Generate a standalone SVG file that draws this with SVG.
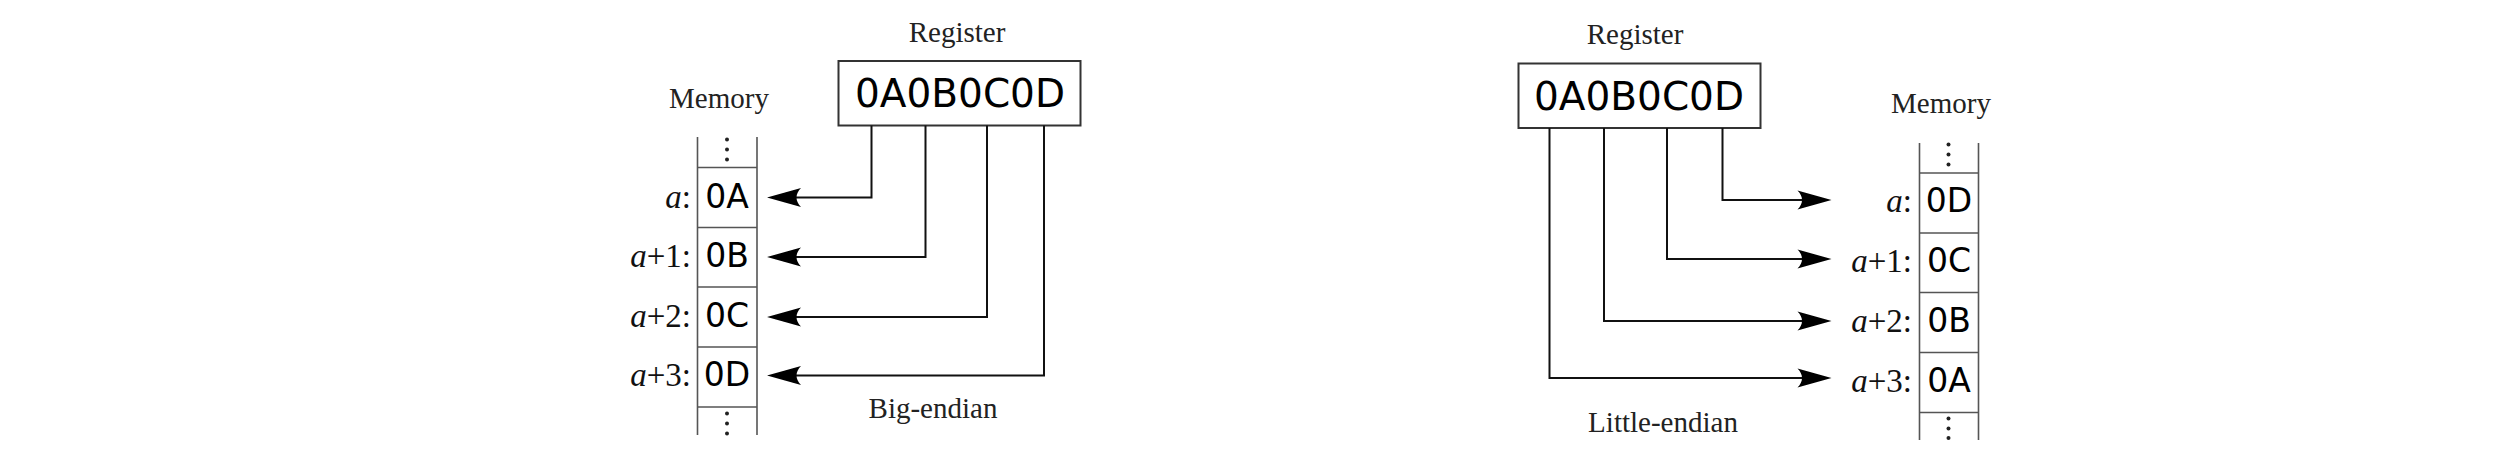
<svg xmlns="http://www.w3.org/2000/svg" width="2515" height="468" viewBox="0 0 2515 468">
<style>
.bg{fill:#fff}
.title{font-family:"Liberation Serif","Times New Roman",serif;font-size:29px;fill:#222;text-anchor:middle}
.lbl{font-family:"Liberation Serif","Times New Roman",serif;font-size:33px;fill:#111;text-anchor:end}
.lbl .i{font-style:italic}
.reg{font-family:"DejaVu Sans","Bitstream Vera Sans",sans-serif;font-size:39px;fill:#000;text-anchor:middle}
.cell{font-family:"DejaVu Sans","Bitstream Vera Sans",sans-serif;font-size:33px;fill:#000;text-anchor:middle}
.box{fill:#fff;stroke:#333;stroke-width:2}
.col{fill:none;stroke:#555;stroke-width:1.6}
.dot{fill:#222}
.conn{fill:none;stroke:#111;stroke-width:2;marker-end:url(#arr)}
</style>
<defs>
<marker id="arr" markerUnits="userSpaceOnUse" orient="auto" refX="0" refY="0" markerWidth="60" markerHeight="30" viewBox="-30 -15 60 30" overflow="visible">
<path d="M10,0 L-24,-9.5 C-18,-3.5 -18,3.5 -24,9.5 Z" fill="#000"/>
</marker>
</defs>
<rect class="bg" x="0" y="0" width="2515" height="468"/>

<g id="big-endian-register">
<text class="title" x="957" y="42">Register</text>
<rect class="box" x="838.5" y="61" width="242" height="64.5"/>
<text class="reg" x="960" y="107">0A0B0C0D</text>
</g>

<g id="big-endian-memory">
<text class="title" x="719" y="108">Memory</text>
<path class="col" d="M697.5,137V435M757,137V435M697.5,167.5H757M697.5,227.5H757M697.5,287H757M697.5,347H757M697.5,407H757"/>
<circle class="dot" cx="727" cy="139.5" r="2"/><circle class="dot" cx="727" cy="149.5" r="2"/><circle class="dot" cx="727" cy="159.5" r="2"/>
<circle class="dot" cx="727" cy="413.5" r="2"/><circle class="dot" cx="727" cy="423.5" r="2"/><circle class="dot" cx="727" cy="433.5" r="2"/>
<text class="cell" x="727" y="208">0A</text>
<text class="cell" x="727" y="267">0B</text>
<text class="cell" x="727" y="327">0C</text>
<text class="cell" x="727" y="386">0D</text>
<text class="lbl" x="691" y="208"><tspan class="i">a</tspan>:</text>
<text class="lbl" x="691" y="267"><tspan class="i">a</tspan>+1:</text>
<text class="lbl" x="691" y="327"><tspan class="i">a</tspan>+2:</text>
<text class="lbl" x="691" y="386"><tspan class="i">a</tspan>+3:</text>
</g>

<g id="big-endian-caption">
<text class="title" x="933" y="418">Big-endian</text>
</g>

<g id="little-endian-register">
<text class="title" x="1635" y="44">Register</text>
<rect class="box" x="1518.5" y="63.5" width="242" height="64.5"/>
<text class="reg" x="1639" y="110">0A0B0C0D</text>
</g>

<g id="little-endian-memory">
<text class="title" x="1941" y="113">Memory</text>
<path class="col" d="M1919.5,143V440M1978.5,143V440M1919.5,173H1978.5M1919.5,233H1978.5M1919.5,292.5H1978.5M1919.5,352.5H1978.5M1919.5,412.5H1978.5"/>
<circle class="dot" cx="1948.5" cy="144.5" r="2"/><circle class="dot" cx="1948.5" cy="154.5" r="2"/><circle class="dot" cx="1948.5" cy="164.5" r="2"/>
<circle class="dot" cx="1948.5" cy="418.5" r="2"/><circle class="dot" cx="1948.5" cy="428.5" r="2"/><circle class="dot" cx="1948.5" cy="438" r="2"/>
<text class="cell" x="1949" y="212">0D</text>
<text class="cell" x="1949" y="272">0C</text>
<text class="cell" x="1949" y="332">0B</text>
<text class="cell" x="1949" y="392">0A</text>
<text class="lbl" x="1912" y="212"><tspan class="i">a</tspan>:</text>
<text class="lbl" x="1912" y="272"><tspan class="i">a</tspan>+1:</text>
<text class="lbl" x="1912" y="332"><tspan class="i">a</tspan>+2:</text>
<text class="lbl" x="1912" y="392"><tspan class="i">a</tspan>+3:</text>
</g>

<g id="little-endian-caption">
<text class="title" x="1663" y="432">Little-endian</text>
</g>

<g id="connectors">
<path class="conn" d="M871.5,125.5V197.5H777"/>
<path class="conn" d="M925.5,125.5V257H777"/>
<path class="conn" d="M987,125.5V317H777"/>
<path class="conn" d="M1044,125.5V375.5H777"/>
<path class="conn" d="M1722.5,128V200H1821.5"/>
<path class="conn" d="M1667,128V259H1821.5"/>
<path class="conn" d="M1604,128V321H1821.5"/>
<path class="conn" d="M1549.5,128V378H1821.5"/>
</g>
</svg>
